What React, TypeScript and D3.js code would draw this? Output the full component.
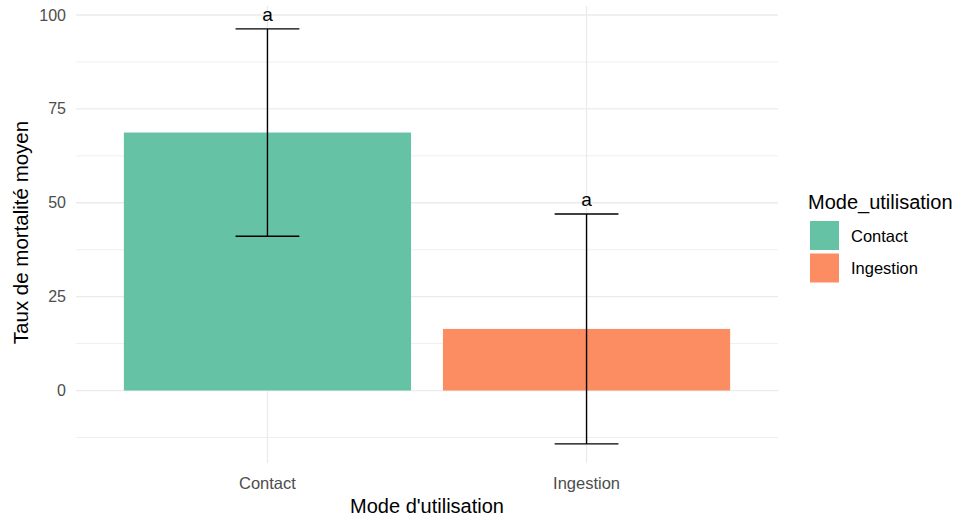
import React from "react";
import * as d3 from "d3";

// Mean mortality rate per mode of use, with standard deviation
const categories = ["Contact", "Ingestion"];
const means = [68.7, 16.4];
const sds = [27.6, 30.6];
const groupLetters = ["a", "a"];
const colors = ["#66C2A5", "#FC8D62"];
const yTicks = [0, 25, 50, 75, 100];
const yMinorTicks = [-12.5, 12.5, 37.5, 62.5, 87.5];

const W = 958;
const H = 518;
const panel = { left: 76, right: 778, top: 6, bottom: 463 };
const FONT = "'Liberation Sans', Arial, sans-serif";

export default function App() {
  // discrete axis: categories at 1..n with 0.6 expansion each side
  const xc = d3
    .scaleLinear()
    .domain([0.4, categories.length + 0.6])
    .range([panel.left, panel.right]);
  const unit = xc(1) - xc(0);
  const y = d3.scaleLinear().domain([-19.3, 102.4]).range([panel.bottom, panel.top]);

  const grid = "#EBEBEB";

  return (
    <div style={{ position: "absolute", left: 0, top: 0 }}>
      <svg width={W} height={H} style={{ display: "block", background: "#fff" }} fontFamily={FONT}>
        {/* grid */}
        {yMinorTicks.map((t) => (
          <line key={"m" + t} x1={panel.left} x2={panel.right} y1={y(t)} y2={y(t)} stroke={grid} strokeWidth={0.8} />
        ))}
        {yTicks.map((t) => (
          <line key={"M" + t} x1={panel.left} x2={panel.right} y1={y(t)} y2={y(t)} stroke={grid} strokeWidth={1.3} />
        ))}
        {categories.map((c, i) => (
          <line key={"v" + c} x1={xc(i + 1)} x2={xc(i + 1)} y1={panel.top} y2={panel.bottom} stroke={grid} strokeWidth={1.3} />
        ))}

        {/* bars */}
        {categories.map((c, i) => {
          const cx = xc(i + 1);
          const bw = unit * 0.9;
          const y0 = y(0);
          const y1 = y(means[i]);
          return (
            <rect key={"b" + c} x={cx - bw / 2} y={Math.min(y0, y1)} width={bw} height={Math.abs(y0 - y1)} fill={colors[i]} />
          );
        })}

        {/* error bars */}
        {categories.map((c, i) => {
          const cx = xc(i + 1);
          const hw = unit * 0.1;
          const yu = y(means[i] + sds[i]);
          const yl = y(means[i] - sds[i]);
          return (
            <g key={"e" + c} stroke="#000" strokeWidth={1.4}>
              <line x1={cx} x2={cx} y1={yu} y2={yl} />
              <line x1={cx - hw} x2={cx + hw} y1={yu} y2={yu} />
              <line x1={cx - hw} x2={cx + hw} y1={yl} y2={yl} />
            </g>
          );
        })}

        {/* group letters */}
        {categories.map((c, i) => (
          <text key={"l" + c} x={xc(i + 1)} y={y(means[i] + sds[i]) - 8} textAnchor="middle" fontSize={19} fill="#000">
            {groupLetters[i]}
          </text>
        ))}

        {/* y axis ticks */}
        {yTicks.map((t) => (
          <text key={"yt" + t} x={66} y={y(t)} dy="0.35em" textAnchor="end" fontSize={16} fill="#4D4D4D">
            {t}
          </text>
        ))}
        {/* x axis ticks */}
        {categories.map((c, i) => (
          <text key={"xt" + c} x={xc(i + 1)} y={483} dy="0.35em" textAnchor="middle" fontSize={16.5} fill="#4D4D4D">
            {c}
          </text>
        ))}

        {/* axis titles */}
        <text x={(panel.left + panel.right) / 2} y={506} dy="0.35em" textAnchor="middle" fontSize={20} fill="#000">
          Mode d'utilisation
        </text>
        <text
          transform={`translate(21,${(panel.top + panel.bottom) / 2 - 2}) rotate(-90)`}
          dy="0.35em"
          textAnchor="middle"
          fontSize={20.5}
          fill="#000"
        >
          Taux de mortalité moyen
        </text>

        {/* legend */}
        <text x={808} y={202} dy="0.35em" fontSize={20} fill="#000">
          Mode_utilisation
        </text>
        {categories.map((c, i) => (
          <g key={"lg" + c}>
            <rect x={810} y={221 + i * 32.5} width={29} height={29} fill={colors[i]} />
            <text x={851} y={236 + i * 32.5} dy="0.35em" fontSize={16.5} fill="#000">
              {c}
            </text>
          </g>
        ))}
      </svg>
    </div>
  );
}
